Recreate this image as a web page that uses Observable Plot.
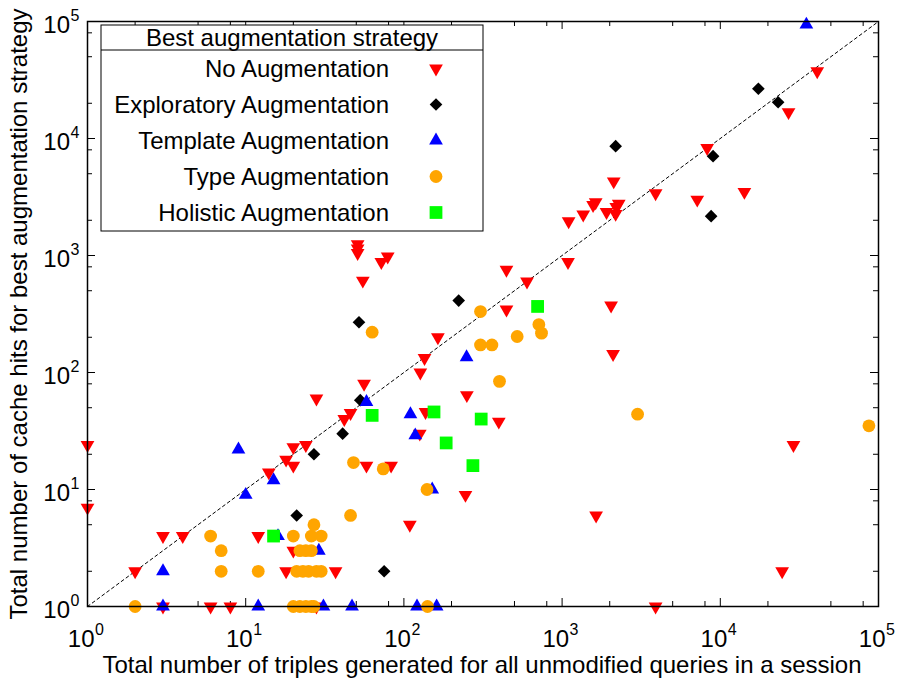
<!DOCTYPE html>
<html><head><meta charset="utf-8">
<script src="https://cdn.jsdelivr.net/npm/d3@7"></script>
<script src="https://cdn.jsdelivr.net/npm/@observablehq/plot@0.6"></script>
<style>
body{margin:0;background:#fff;}
#chart svg{font-family:"Liberation Sans",Arial,Helvetica,sans-serif;display:block;}
</style>
</head><body><div id="chart"></div>
<script>
// ---- data (x = triples for unmodified queries, y = cache hits for best strategy) ----
const noAugmentation = [
  [1,24],[1,7],[2,2],[3,4],[4,4],[3,1],[6,1],[8,1],[12,4],[18,2],[20,3],[14,14],[18,18],[20,16],[20,23],[24,24],
  [28,60],[42,40],[46,45],[58,16],[83,16],[56,80],[37,2],[28,1],[109,5],[245,9],[137,46],[126,30],[398,38],[250,64],
  [127,100],[135,133],[164,200],[445,345],[445,755],[600,600],[1090,880],[2040,374],[2100,144],[51,1250],[51,1150],
  [51,1050],[79,980],[72,880],[55,610],[1100,1960],[1360,2240],[1570,2700],[1630,2850],[1910,2350],[2180,2270],
  [2200,2600],[2280,2770],[2120,4300],[3900,3400],[7150,3000],[14200,3500],[8260,8300],[27000,16800],[41000,37600],
  [1640,6],[3900,1],[24600,2],[29000,24]
];
const exploratoryAugmentation = [
  [17400,26600],[23200,20400],[2180,8600],[9000,7060],[8750,2170],[222,412],[52,269],[53,58],[41,30],[27,20],[21,6],[75,2]
];
const templateAugmentation = [
  [35000,94000],[9,22],[15,12],[10,9],[3,2],[3,1],[12,1],[16,4],[29,3],[31,1],[47,1],[121,1],[161,1],[58,56],[110,44],
  [118,29],[151,10],[249,135]
];
const typeAugmentation = [
  [6,4],[7,3],[7,2],[12,2],[2,1],[20,4],[26,4],[30,4],[27,5],[22,3],[24,3],[26,3],[21,2],[23,2],[25,2],[28,2],[30,2],
  [20,1],[22,1],[24,1],[26,1],[27,1],[141,1],[46,6],[48,17],[74,15],[140,10],[63,221],[305,332],[305,172],[360,172],
  [520,203],[713,257],[741,217],[402,84],[3000,44],[87000,35]
];
const holisticAugmentation = [
  [15,4],[63,43],[155,46],[308,40],[185,25],[273,16],[700,367]
];
const seriesNames = ["No Augmentation","Exploratory Augmentation","Template Augmentation","Type Augmentation","Holistic Augmentation"];
const seriesColors = ["#ff0000","#000000","#0000ff","#ffa500","#00ff00"];
const majorTicks = [1,10,100,1000,10000,100000];
const tickExponents = ["0","1","2","3","4","5"];
const minorMultipliers = [2,5,8];
const diagonal = [1,100000];
const xLabel = "Total number of triples generated for all unmodified queries in a session";
const yLabel = "Total number of cache hits for best augmentation strategy";
const legendTitle = "Best augmentation strategy";

// ---- layout ----
const W = 901, H = 684, mL = 87, mR = 23, mT = 21, mB = 78;
const iW = W - mL - mR, iH = H - mT - mB;
const minorTicks = majorTicks.slice(0, -1).flatMap(d => minorMultipliers.map(m => m * d));
const expOf = new Map(majorTicks.map((d, i) => [d, tickExponents[i]]));

const triangleDown = {
  draw(ctx, size) {
    const y = -Math.sqrt(size / (Math.sqrt(3) * 3));
    ctx.moveTo(0, -y * 2);
    ctx.lineTo(-Math.sqrt(3) * y, y);
    ctx.lineTo(Math.sqrt(3) * y, y);
    ctx.closePath();
  }
};
const symbols = [triangleDown, "diamond2", "triangle", "circle", "square"];
const radii = [5.1, 5.7, 5.1, 6.4, 7.2];
const seriesData = [noAugmentation, exploratoryAugmentation, templateAugmentation, typeAugmentation, holisticAugmentation];

const F = 24, FS = 16;
const marks = [
  Plot.line(diagonal, {x: d => d, y: d => d, stroke: "#000", strokeWidth: 1, strokeDasharray: "3,3"}),
  // inward ticks on all four sides
  Plot.ruleX(majorTicks, {x: d => d, insetTop: iH - 8, stroke: "#000"}),
  Plot.ruleX(majorTicks, {x: d => d, insetBottom: iH - 8, stroke: "#000"}),
  Plot.ruleX(minorTicks, {x: d => d, insetTop: iH - 5, stroke: "#000"}),
  Plot.ruleX(minorTicks, {x: d => d, insetBottom: iH - 5, stroke: "#000"}),
  Plot.ruleY(majorTicks, {y: d => d, insetRight: iW - 8, stroke: "#000"}),
  Plot.ruleY(majorTicks, {y: d => d, insetLeft: iW - 8, stroke: "#000"}),
  Plot.ruleY(minorTicks, {y: d => d, insetRight: iW - 5, stroke: "#000"}),
  Plot.ruleY(minorTicks, {y: d => d, insetLeft: iW - 5, stroke: "#000"}),
  ...seriesData.map((data, i) => Plot.dot(data, {
    x: d => d[0], y: d => d[1], symbol: symbols[i], r: radii[i], fill: seriesColors[i], stroke: "none"
  })),
  Plot.frame({stroke: "#000", strokeWidth: 1.5}),
  // x tick labels
  Plot.text(majorTicks, {x: d => d, text: () => "10", frameAnchor: "bottom", lineAnchor: "bottom", textAnchor: "end", dx: 7, dy: 40, fontSize: F, fill: "#000"}),
  Plot.text(majorTicks, {x: d => d, text: d => expOf.get(d), frameAnchor: "bottom", lineAnchor: "bottom", textAnchor: "start", dx: 7.5, dy: 28, fontSize: FS, fill: "#000"}),
  // y tick labels
  Plot.text(majorTicks, {y: d => d, text: () => "10", frameAnchor: "left", lineAnchor: "bottom", textAnchor: "end", dx: -17.5, dy: 11, fontSize: F, fill: "#000"}),
  Plot.text(majorTicks, {y: d => d, text: d => expOf.get(d), frameAnchor: "left", lineAnchor: "bottom", textAnchor: "end", dx: -8, dy: -1, fontSize: FS, fill: "#000"}),
  // axis titles
  Plot.text([xLabel], {text: d => d, frameAnchor: "bottom", lineAnchor: "bottom", textAnchor: "middle", dx: -1, dy: 66, fontSize: F, fill: "#000"}),
  Plot.text([yLabel], {text: d => d, frameAnchor: "left", lineAnchor: "bottom", textAnchor: "middle", rotate: -90, dx: -61, dy: 0, fontSize: F, fill: "#000"})
];

const chart = Plot.plot({
  width: W, height: H,
  marginLeft: mL, marginRight: mR, marginTop: mT, marginBottom: mB,
  x: {type: "log", domain: [1, 100000], axis: null},
  y: {type: "log", domain: [1, 100000], axis: null},
  style: {background: "#fff", color: "#000", fontFamily: "'Liberation Sans', Arial, Helvetica, sans-serif"},
  marks
});
document.getElementById("chart").append(chart);

// ---- legend box (gnuplot style) ----
const svg = d3.select(chart);
const lg = svg.append("g").attr("font-size", F).attr("fill", "#000");
const bx = 101, by = 25, bw = 382, bh = 206, sepY = 50;
lg.append("rect").attr("x", bx).attr("y", by).attr("width", bw).attr("height", bh)
  .attr("fill", "#fff").attr("stroke", "#000").attr("stroke-width", 1);
lg.append("line").attr("x1", bx).attr("x2", bx + bw).attr("y1", sepY).attr("y2", sepY).attr("stroke", "#000");
lg.append("text").attr("x", bx + bw / 2).attr("y", 46).attr("text-anchor", "middle").text(legendTitle);
const d3sym = {diamond2: d3.symbolDiamond2, triangle: d3.symbolTriangle, circle: d3.symbolCircle, square: d3.symbolSquare};
seriesNames.forEach((name, i) => {
  const cy = 68.5 + i * 36;
  lg.append("text").attr("x", 389).attr("y", cy + 8).attr("text-anchor", "end").text(name);
  const type = typeof symbols[i] === "string" ? d3sym[symbols[i]] : symbols[i];
  lg.append("path").attr("transform", `translate(436,${cy})`)
    .attr("d", d3.symbol(type, Math.PI * radii[i] * radii[i])())
    .attr("fill", seriesColors[i]);
});
</script>
</body></html>
